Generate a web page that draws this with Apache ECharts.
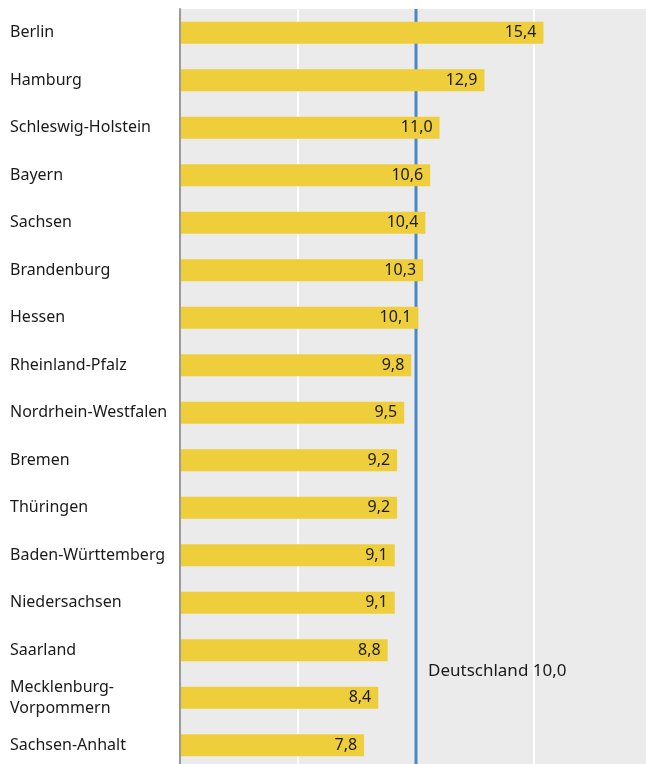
<!DOCTYPE html>
<html><head><meta charset="utf-8">
<script src="https://cdn.jsdelivr.net/npm/echarts@6/dist/echarts.min.js"></script>
<style>html,body{margin:0;padding:0;background:#fff}#c{width:646px;height:764px}</style>
</head><body><div id="c"></div>
<script>
const categories = ["Berlin","Hamburg","Schleswig-Holstein","Bayern","Sachsen","Brandenburg","Hessen","Rheinland-Pfalz","Nordrhein-Westfalen","Bremen","Thüringen","Baden-Württemberg","Niedersachsen","Saarland","Mecklenburg-\nVorpommern","Sachsen-Anhalt"];
const values = [15.4,12.9,11.0,10.6,10.4,10.3,10.1,9.8,9.5,9.2,9.2,9.1,9.1,8.8,8.4,7.8];
const average = 10.0;
const averageLabel = "Deutschland";
const fmt = v => v.toFixed(1).replace('.', ',');
const FONT = '"Noto Sans", sans-serif';
const chart = echarts.init(document.getElementById('c'));
chart.setOption({
  animation:false,
  textStyle:{fontFamily:FONT},
  grid:{left:180,top:9,width:472,height:760,outerBoundsMode:'none',show:true,backgroundColor:'#ebebeb',borderWidth:0},
  xAxis:{type:'value',min:0,max:20,interval:5,axisLabel:{show:false},axisLine:{show:false},axisTick:{show:false},
    splitLine:{show:true,lineStyle:{color:'#ffffff',width:2}}},
  yAxis:[
    {type:'category',data:categories,inverse:true,z:5,
      axisLine:{show:true,lineStyle:{color:'#9a9a9a',width:2}},axisTick:{show:false},
      axisLabel:{align:'left',margin:170,color:'#1a1a1a',fontSize:16,fontFamily:FONT,lineHeight:21,padding:[4,0,0,0]}},
    {type:'value',min:0,max:1,show:false}
  ],
  series:[
    {type:'line',xAxisIndex:0,yAxisIndex:1,z:1,symbol:'none',silent:true,
      lineStyle:{color:'#4a86c8',width:3},data:[[average,0],[average,1]]},
    {type:'bar',data:values,barWidth:'46%',z:3,itemStyle:{color:'#efce3c'},
    label:{show:true,position:'insideRight',distance:7,color:'#1a1a1a',fontSize:16,fontFamily:FONT,padding:[4,0,0,0],formatter:p=>fmt(p.value)}}
  ]
});
const px = chart.convertToPixel({xAxisIndex:0}, average);
const y1 = chart.convertToPixel({yAxisIndex:0}, categories[13]);
const y2 = chart.convertToPixel({yAxisIndex:0}, categories[14]);
chart.setOption({graphic:[{type:'text',left:px+12,top:(y1+y2)/2-11,
  style:{text:averageLabel+' '+fmt(average),fill:'#1a1a1a',font:'17px '+FONT}}]});
</script></body></html>
